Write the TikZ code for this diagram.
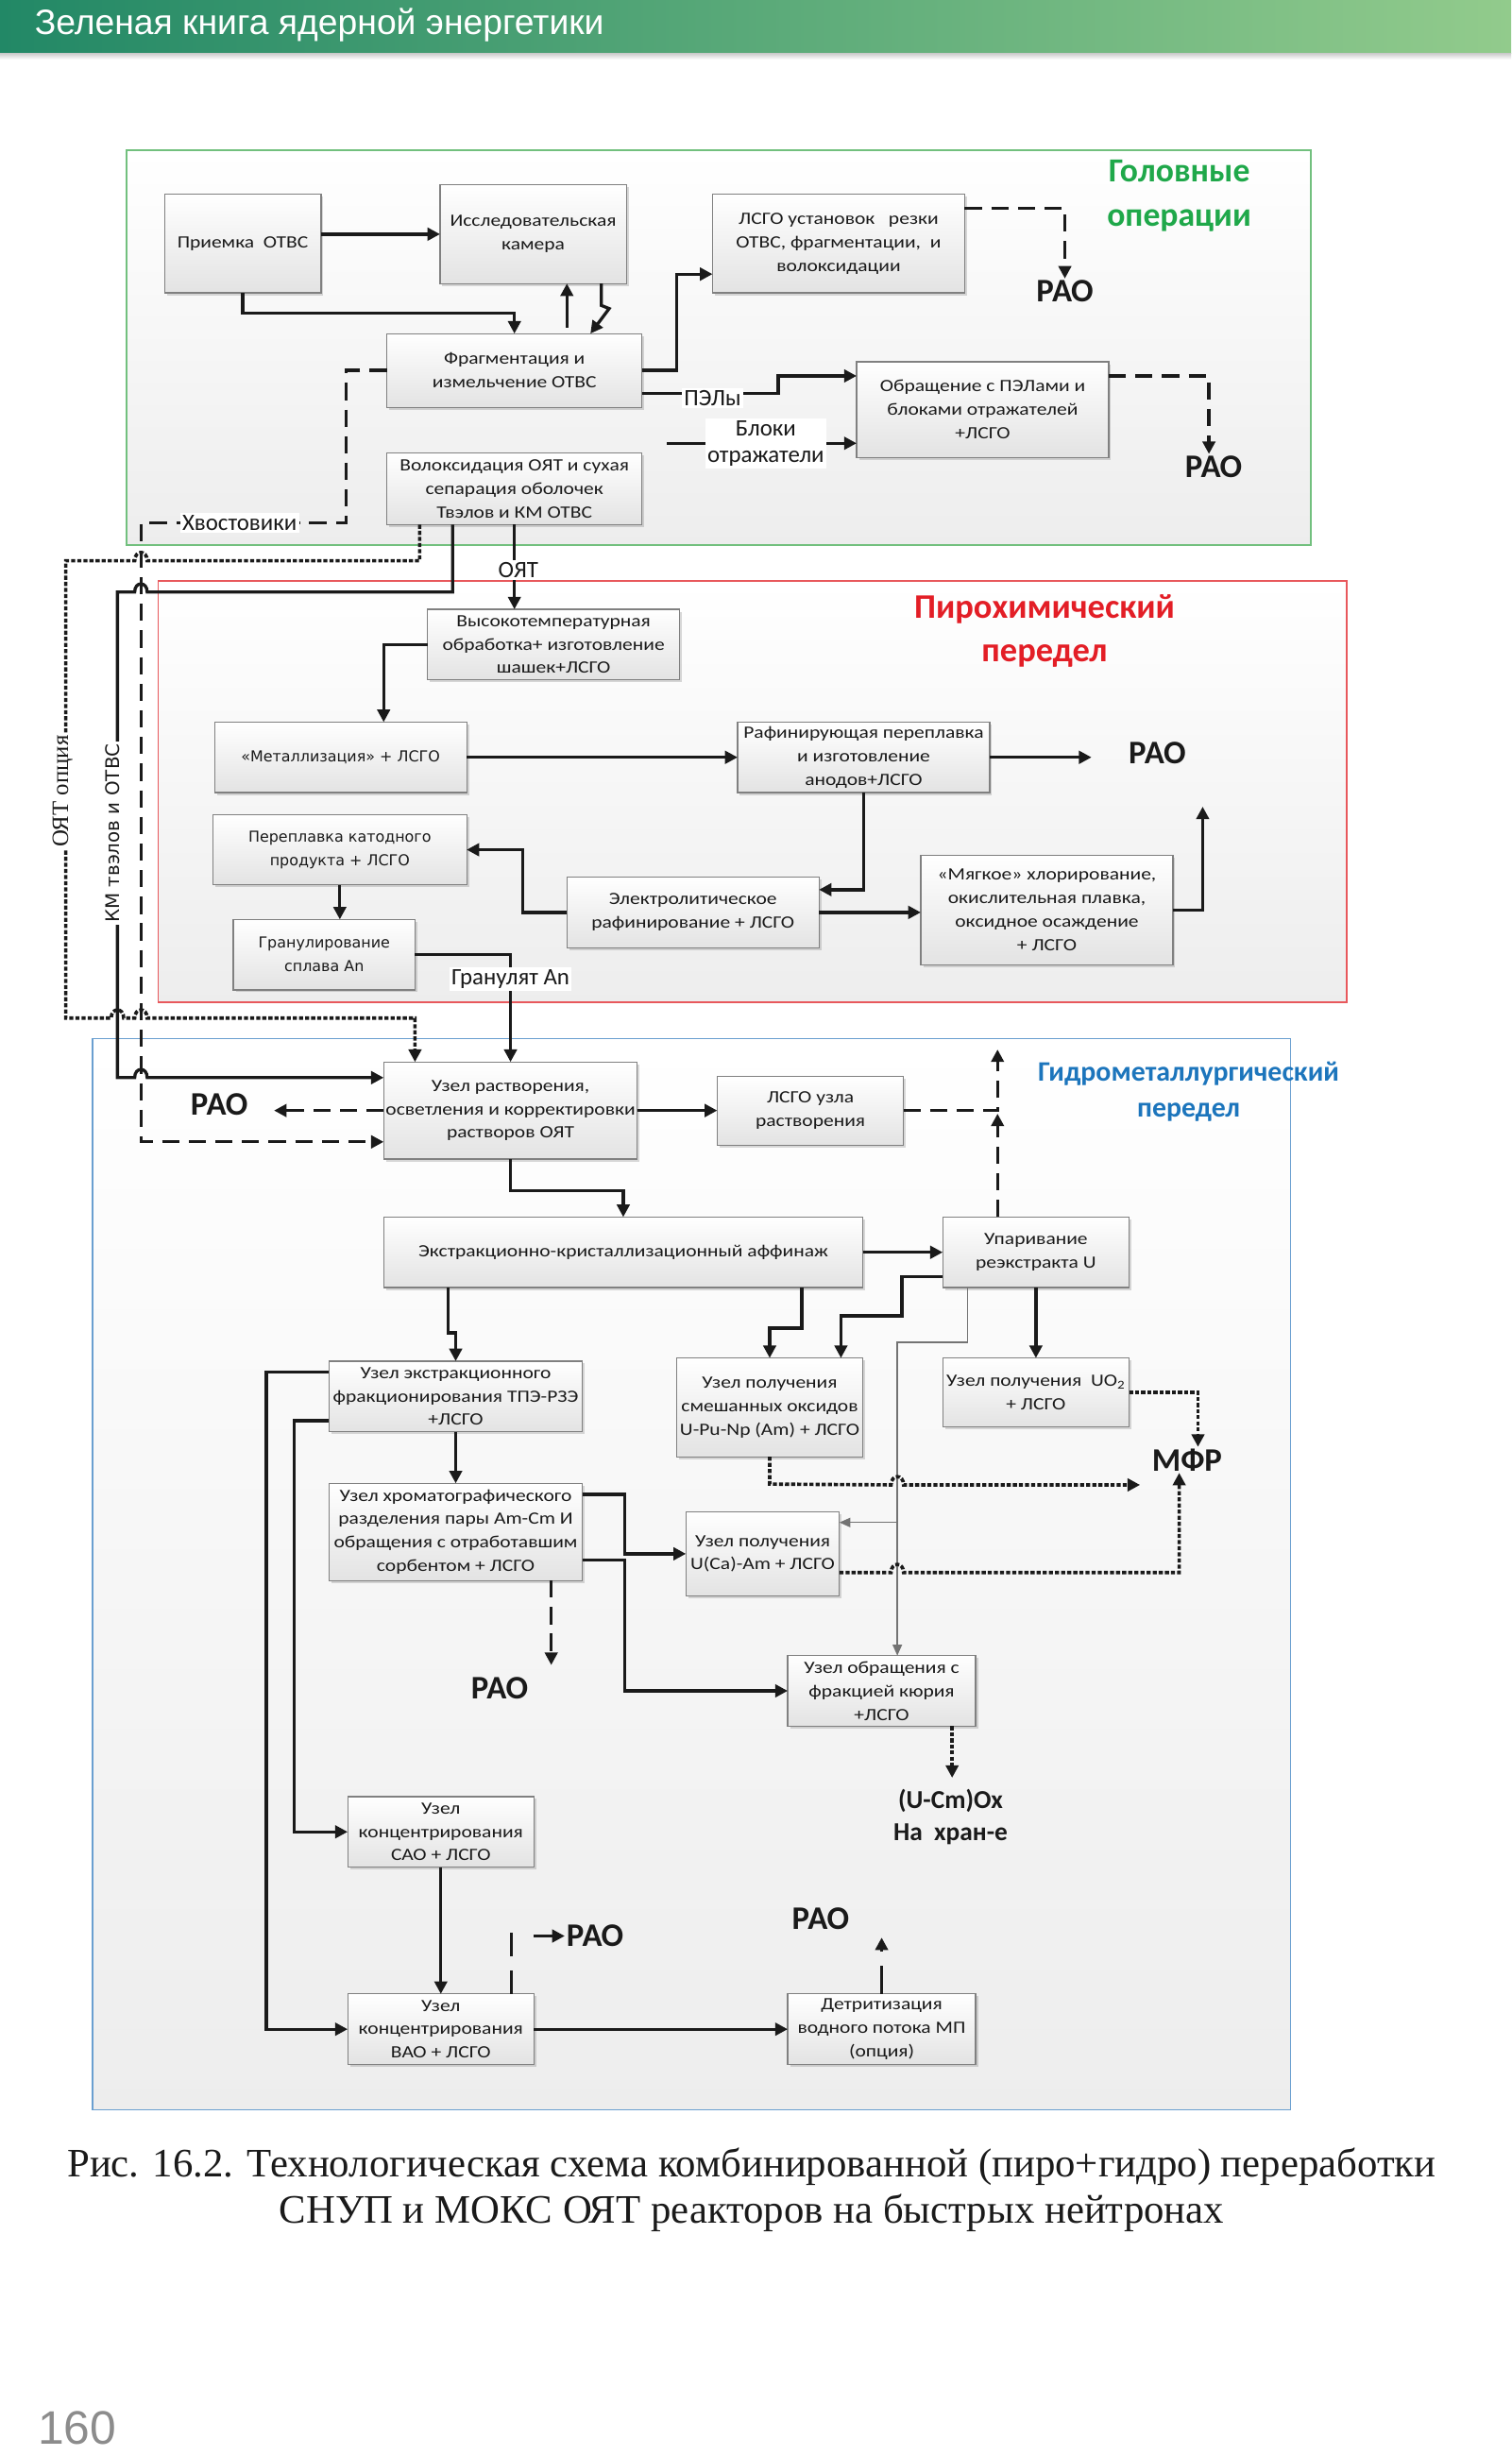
\documentclass[tikz,border=0pt]{standalone}
\usepackage{fontspec}
\setmainfont{Carlito}
\newfontfamily\bxf{Carlito}[FakeStretch=1.18]
\newfontfamily\dvsans{DejaVu Sans}
\newfontfamily\serifT{Liberation Serif}
\newfontfamily\arialT{Liberation Sans}
\usetikzlibrary{arrows.meta,shadows,calc}

\definecolor{hdrL}{HTML}{228866}
\definecolor{hdrR}{HTML}{92CB8C}
\definecolor{grnT}{HTML}{1FA84A}
\definecolor{redT}{HTML}{E31E26}
\definecolor{bluT}{HTML}{1C75BC}
\definecolor{grnF}{HTML}{72C07E}
\definecolor{redF}{HTML}{E8585C}
\definecolor{bluF}{HTML}{6A9FD0}
\definecolor{ink}{HTML}{1A1A1A}

\tikzset{
 box/.style={draw=black!50, line width=0.7pt, top color=white, bottom color=black!11,
   align=center, inner sep=1pt, outer sep=0pt, text=ink,
   font=\bxf\fontsize{11}{15}\selectfont,
   drop shadow={shadow xshift=1.5pt, shadow yshift=-1.5pt, opacity=0.25, fill=black!60}},
 dvbox/.style={box, font=\dvsans\fontsize{9.6}{15}\selectfont},
 frame/.style={line width=1pt, top color=white, bottom color=black!7, outer sep=0pt, inner sep=0pt},
 arr/.style={draw=ink, line width=2pt, -{Triangle[length=8pt,width=8pt]}},
 ln/.style={draw=ink, line width=2pt},
 darr/.style={arr, dash pattern=on 11pt off 6pt},
 dln/.style={ln, dash pattern=on 11pt off 6pt},
 oarr/.style={arr, line width=2.2pt, dash pattern=on 2.6pt off 1.3pt},
 garr/.style={draw=black!55, line width=0.8pt, -{Triangle[length=7pt,width=6pt]}},
 rao/.style={font=\bfseries\fontsize{21}{22}\selectfont, text=ink, inner sep=1pt},
 lbl/.style={fill=white, inner sep=1.5pt, font=\fontsize{15}{17}\selectfont, text=ink, align=center},
 ttl/.style={align=center, inner sep=0pt}
}

\begin{document}
\begin{tikzpicture}[x=1pt,y=-1pt]
\useasboundingbox (0,0) rectangle (965,1568);
\fill[white] (0,0) rectangle (965,1568);

% header
\shade[left color=hdrL, right color=hdrR] (0,0) rectangle (965,34);
\shade[top color=black!20, bottom color=white] (0,34) rectangle (965,38);
\node[anchor=west, text=white, font=\arialT\fontsize{22.5}{24}\selectfont, inner sep=0] (hdr) at (22,16) {Зеленая книга ядерной энергетики};

% frames
\node[frame, draw=grnF, minimum width=756pt, minimum height=252pt] (frG) at (459,222) {};
\node[frame, draw=redF, minimum width=759pt, minimum height=269pt] (frR) at (480.5,505.5) {};
\node[frame, draw=bluF, minimum width=765pt, minimum height=684pt] (frB) at (441.5,1005) {};

% titles
\node[ttl, text=grnT, font=\bfseries\fontsize{21.5}{28}\selectfont] (tG) at (753,125) {Головные\\операции};
\node[ttl, text=redT, font=\bfseries\fontsize{22}{28}\selectfont] (tR) at (667,403) {Пирохимический\\передел};
\node[ttl, text=bluT, font=\bfseries\fontsize{18}{23}\selectfont] (tB) at (759,697) {Гидрометаллургический\\передел};

% head-end boxes
\node[box, minimum width=100pt, minimum height=63pt] (priem) at (155,155.5) {Приемка\ \ ОТВС};
\node[box, minimum width=119pt, minimum height=63pt] (issl) at (340.5,149.5) {Исследовательская\\камера};
\node[box, minimum width=161pt, minimum height=63pt] (lsgo1) at (535.5,155.5) {ЛСГО установок\ \ \ резки\\ОТВС, фрагментации,\ \ и\\волоксидации};
\node[box, minimum width=163pt, minimum height=47pt] (frag) at (328.5,236.5) {Фрагментация и\\измельчение ОТВС};
\node[box, minimum width=163pt, minimum height=46pt] (volox) at (328.5,312) {Волоксидация ОЯТ и сухая\\сепарация оболочек\\Твэлов и КМ ОТВС};
\node[box, minimum width=161pt, minimum height=61pt] (pel) at (627.5,261.5) {Обращение с ПЭЛами и\\блоками отражателей\\+ЛСГО};

% pyro boxes
\node[box, minimum width=161pt, minimum height=45pt] (vysok) at (353.5,411.5) {Высокотемпературная\\обработка+ изготовление\\шашек+ЛСГО};
\node[dvbox, minimum width=161pt, minimum height=45pt] (metal) at (217.5,483.5) {«Металлизация» + ЛСГО};
\node[box, minimum width=161pt, minimum height=45pt] (rafin) at (551.5,483.5) {Рафинирующая переплавка\\и изготовление\\анодов+ЛСГО};
\node[dvbox, minimum width=162pt, minimum height=45pt] (perepl) at (217,542.5) {Переплавка катодного\\продукта + ЛСГО};
\node[box, minimum width=161pt, minimum height=45pt] (elektro) at (442.5,582.5) {Электролитическое\\рафинирование + ЛСГО};
\node[box, minimum width=161pt, minimum height=70pt] (myag) at (668.5,581) {«Мягкое» хлорирование,\\окислительная плавка,\\оксидное осаждение\\+ ЛСГО};
\node[dvbox, minimum width=116pt, minimum height=45pt] (granul) at (207,609.5) {Гранулирование\\сплава An};

% hydro boxes
\node[box, minimum width=162pt, minimum height=62pt] (rastv) at (326,709) {Узел растворения,\\осветления и корректировки\\растворов ОЯТ};
\node[box, minimum width=119pt, minimum height=44pt] (lsgo2) at (517.5,709) {ЛСГО узла\\растворения};
\node[box, minimum width=306pt, minimum height=45pt] (ekstr) at (398,799.5) {Экстракционно-кристаллизационный аффинаж};
\node[box, minimum width=119pt, minimum height=45pt] (upar) at (661.5,799.5) {Упаривание\\реэкстракта U};
\node[box, minimum width=162pt, minimum height=45pt] (fract) at (291,891.5) {Узел экстракционного\\фракционирования ТПЭ-РЗЭ\\+ЛСГО};
\node[box, minimum width=119pt, minimum height=63pt] (smesh) at (491.5,898.5) {Узел получения\\смешанных оксидов\\U-Pu-Np (Am) + ЛСГО};
\node[box, minimum width=119pt, minimum height=44pt] (uo2) at (661.5,889) {Узел получения\ \ UO\textsubscript{2}\\+ ЛСГО};
\node[box, minimum width=162pt, minimum height=62pt] (chrom) at (291,978) {Узел хроматографического\\разделения пары Am-Cm И\\обращения с отработавшим\\сорбентом + ЛСГО};
\node[box, minimum width=98pt, minimum height=54pt] (ucaam) at (487,992) {Узел получения\\U(Ca)-Am + ЛСГО};
\node[box, minimum width=120pt, minimum height=45pt] (kuri) at (563,1079.5) {Узел обращения с\\фракцией кюрия\\+ЛСГО};
\node[box, minimum width=119pt, minimum height=45pt] (sao) at (281.5,1169.5) {Узел\\концентрирования\\САО + ЛСГО};
\node[box, minimum width=119pt, minimum height=45pt] (vao) at (281.5,1295.5) {Узел\\концентрирования\\ВАО + ЛСГО};
\node[box, minimum width=120pt, minimum height=45pt] (detrit) at (563,1295.5) {Детритизация\\водного потока МП\\(опция)};

% output labels
\node[rao] (rao1) at (680,186) {РАО};
\node[rao] (rao2) at (775,298) {РАО};
\node[rao] (rao3) at (739,481) {РАО};
\node[rao] (rao4) at (140,705) {РАО};
\node[rao] (rao5) at (319,1078) {РАО};
\node[rao] (rao6) at (380,1236) {РАО};
\node[rao] (rao7) at (524,1225) {РАО};
\node[rao] (mfr) at (758,932) {МФР};
\node[align=center, font=\bfseries\fontsize{16.5}{20}\selectfont, text=ink, inner sep=0] (ucm) at (607,1160) {(U-Cm)Ox\\На\ \ хран-е};

% ---------- connectors: head-end
\draw[arr] (priem.east |- issl.west) -- (issl.west);
\draw[arr] (priem.south) -- ++(0,13) -| (frag.north);
\draw[arr] ($(frag.north)+(33.5,-4)$) -- ($(issl.south)+(21.5,0)$);
\draw[arr] ($(issl.south)+(43.5,0)$) -- ++(0,14) -- ++(5,2) -- ($(frag.north)+(48.5,0)$);
\draw[arr] (frag.east) -- ++(22,0) |- ($(lsgo1.west)+(0,19.5)$);
\draw[arr] ($(frag.east)+(0,14.5)$) -- ++(87,0) |- ($(pel.west)+(0,-21.5)$);
\coordinate (blk0) at (426,283);
\draw[arr] (blk0) -- (blk0 -| pel.west);
\draw[darr] ($(lsgo1.east)+(0,-22.5)$) -| (rao1.north);
\draw[darr] ($(pel.east)+(0,-21.5)$) -| ($(rao2.north)+(-3,0)$);
\coordinate (kh1) at (90,334);
\coordinate (kh2) at (90,729);
\draw[darr] (frag.west) -- ++(-26,0) |- (kh1) -- (kh2) -- ($(rastv.west)+(0,20)$);
% OYaT option (dotted)
\draw[oarr] ($(volox.south)+(-60.5,0)$) -- ++(0,23) -- (94,358) .. controls (94,351) and (86,351) .. (86,358) -- (42,358) -- (42,650) -- (71,650) .. controls (71,643) and (79,643) .. (79,650) -- (86,650) .. controls (86,643) and (94,643) .. (94,650) -| ($(rastv.north)+(-61,0)$);
% KM fuel rods
\draw[arr] ($(volox.south)+(-39.5,0)$) -- ++(0,43) -- (94,378) .. controls (94,371) and (86,371) .. (86,378) -- (75,378) -- (75,688) -- (86,688) .. controls (86,681) and (94,681) .. (94,688) -- ($(rastv.west)+(0,-21)$);
\draw[arr] (volox.south) -- (volox.south |- vysok.north);

% ---------- pyro
\draw[arr] (vysok.west) -| ($(metal.north)+(27.5,0)$);
\draw[arr] (metal.east) -- (rafin.west);
\draw[arr] (rafin.east) -- ($(rafin.east)+(65,0)$);
\draw[arr] (rafin.south) |- ($(elektro.east)+(0,-14.5)$);
\draw[arr] (elektro.east) -- (elektro.east -| myag.west);
\coordinate (pyup) at (768,515);
\draw[arr] (myag.east) -| (pyup);
\draw[arr] (elektro.west) -- ++(-28,0) |- (perepl.east);
\draw[arr] (perepl.south) -- (perepl.south |- granul.north);
\draw[arr] (granul.east) -| (rastv.north);

% ---------- hydro
\draw[darr] (rastv.west) -- ++(-70,0);
\draw[arr] (rastv.east) -- (lsgo2.west);
\draw[darr] (lsgo2.east) -| ++(60,-39);
\draw[darr] ($(upar.north)+(-24.5,0)$) -- ++(0,-66);
\draw[arr] (rastv.south) -- ++(0,20) -| (ekstr.north);
\draw[arr] (ekstr.east) -- (upar.west);
\draw[arr] ($(ekstr.south)+(-112,0)$) -- ++(0,29) -| (fract.north);
\draw[arr] ($(ekstr.south)+(114,0)$) -- ++(0,26) -| (smesh.north);
\draw[arr] ($(upar.west)+(0,15.5)$) -- ++(-26,0) -- ++(0,25) -| ($(smesh.north)+(45.5,0)$);
\draw[arr] (upar.south) -- (uo2.north);
\draw[garr] ($(upar.south)+(-43.5,0)$) -- ++(0,35) -| ($(kuri.north)+(10,0)$);
\coordinate (gj) at (573,972);
\draw[garr] (gj) -- (gj -| ucaam.east);
\coordinate (mfrIn) at (728,948);
\draw[oarr] (smesh.south) -- ++(0,17.5) -- (569,948) .. controls (569,941) and (577,941) .. (577,948) -- (mfrIn);
\draw[oarr] (uo2.east) -| ($(mfr.north)+(7,0)$);
\draw[oarr] ($(ucaam.east)+(0,12)$) -- (569,1004) .. controls (569,997) and (577,997) .. (577,1004) -| ($(mfr.south)+(-5,0)$);
\draw[oarr] ($(kuri.south)+(45,0)$) -- ($(kuri.south)+(45,33)$);
\draw[arr] (fract.south) -- (chrom.north);
\draw[arr] ($(chrom.east)+(0,-24)$) -- ++(27,0) |- (ucaam.west);
\draw[arr] ($(chrom.east)+(0,18)$) -- ++(27,0) |- (kuri.west);
\draw[darr] ($(chrom.south)+(61,0)$) -- ++(0,54);
\draw[arr] ($(fract.west)+(0,-15.5)$) -- ++(-40,0) |- (vao.west);
\draw[arr] ($(fract.west)+(0,15.5)$) -- ++(-22,0) |- (sao.west);
\draw[arr] (sao.south) -- (vao.north);
\draw[arr] (vao.east) -- (detrit.west);
\draw[dln, dash pattern=on 15pt off 9pt] ($(vao.north)+(45,0)$) -- ++(0,-40);
\draw[arr] ($(rao6.west)+(-20,0)$) -- (rao6.west);
\draw[darr, dash pattern=on 18pt off 9pt] (detrit.north) -- ++(0,-36);

% ---------- inline labels (over lines)
\node[lbl] (lpel) at (455,254) {ПЭЛы};
\node[lbl] (lblk) at (489,283) {Блоки\\отражатели};
\node[lbl] (lhv) at (153,334) {Хвостовики};
\node[lbl] (loyt) at (331,364) {ОЯТ};
\node[lbl] (lgr) at (326,625) {Гранулят An};
\node[lbl, rotate=90, font=\serifT\fontsize{15}{16}\selectfont] (lopt) at (40,505) {ОЯТ опция};
\node[lbl, rotate=90, font=\dvsans\fontsize{12}{14}\selectfont] (lkm) at (72,532) {КМ твэлов и ОТВС};

% caption and page number
\node[font=\serifT\fontsize{25.8}{30}\selectfont, align=center, text=ink, inner sep=0] (cap) at (480,1398) {Рис. 16.2. Технологическая схема комбинированной (пиро+гидро) переработки\\СНУП и МОКС ОЯТ реакторов на быстрых нейтронах};
\node[anchor=west, font=\arialT\fontsize{30}{32}\selectfont, text=black!45, inner sep=0] (pg) at (24,1550) {160};
\end{tikzpicture}
\end{document}
